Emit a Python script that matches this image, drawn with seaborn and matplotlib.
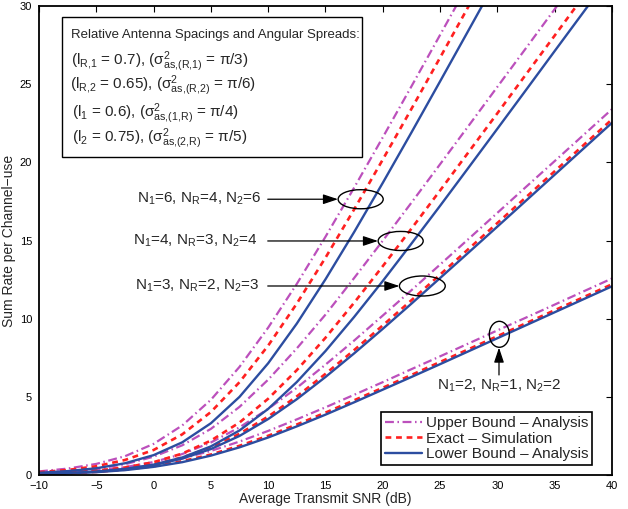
import matplotlib
matplotlib.use("Agg")
import matplotlib.pyplot as plt
import seaborn as sns
import pandas as pd
from matplotlib.patches import Ellipse, Rectangle

# ---------------- data ----------------
snr_db = [-10, -7.5, -5, -2.5, 0, 2.5, 5, 7.5, 10, 12.5, 15, 17.5, 20,
          22.5, 25, 27.5, 30, 32.5, 35, 37.5, 40]

# N1=2, NR=1, N2=2
g1_upper = [0.09, 0.15, 0.25, 0.42, 0.68, 1.06, 1.54, 2.14, 2.82, 3.56, 4.33,
            5.13, 5.94, 6.77, 7.59, 8.42, 9.25, 10.07, 10.90, 11.74, 12.57]
g1_exact = [0.07, 0.12, 0.20, 0.34, 0.56, 0.88, 1.31, 1.87, 2.51, 3.23, 3.99,
            4.78, 5.58, 6.40, 7.23, 8.05, 8.88, 9.71, 10.54, 11.37, 12.20]
g1_lower = [0.06, 0.11, 0.18, 0.31, 0.52, 0.82, 1.24, 1.77, 2.40, 3.11, 3.86,
            4.65, 5.46, 6.27, 7.09, 7.92, 8.75, 9.58, 10.41, 11.24, 12.07]

# N1=3, NR=2, N2=3
g2_upper = [0.10, 0.17, 0.29, 0.50, 0.83, 1.34, 2.08, 3.05, 4.23, 5.58, 7.06,
            8.60, 10.20, 11.82, 13.46, 15.11, 16.77, 18.43, 20.08, 21.74, 23.40]
g2_exact = [0.08, 0.13, 0.23, 0.40, 0.68, 1.12, 1.76, 2.64, 3.74, 5.03, 6.47,
            7.99, 9.57, 11.18, 12.82, 14.47, 16.12, 17.77, 19.43, 21.09, 22.75]
g2_lower = [0.07, 0.12, 0.22, 0.37, 0.63, 1.05, 1.66, 2.50, 3.58, 4.85, 6.27,
            7.78, 9.35, 10.96, 12.60, 14.24, 15.89, 17.55, 19.21, 20.87, 22.53]

# N1=4, NR=3, N2=4
g3_upper = [0.13, 0.23, 0.40, 0.69, 1.17, 1.90, 2.95, 4.36, 6.10, 8.10, 10.26,
            12.60, 14.99, 17.42, 19.88, 22.35, 24.83, 27.31, 29.80, 32.29]
g3_exact = [0.09, 0.16, 0.28, 0.48, 0.82, 1.37, 2.20, 3.36, 4.88, 6.71, 8.78,
            11.02, 13.36, 15.76, 18.20, 20.67, 23.14, 25.63, 28.11, 30.60, 33.09]
g3_lower = [0.07, 0.13, 0.22, 0.39, 0.66, 1.12, 1.83, 2.85, 4.23, 5.95, 7.93,
            10.11, 12.41, 14.80, 17.22, 19.68, 22.15, 24.63, 27.12, 29.60, 32.09]

# N1=6, NR=4, N2=6
g4_upper = [0.23, 0.41, 0.71, 1.20, 1.99, 3.17, 4.81, 6.92, 9.43, 12.23, 15.24,
            18.38, 21.60, 24.86, 28.15, 31.45]
g4_exact = [0.18, 0.32, 0.56, 0.96, 1.60, 2.60, 4.03, 5.94, 8.28, 10.97, 13.90,
            16.99, 20.18, 23.42, 26.70, 30.00, 33.31]
g4_lower = [0.14, 0.25, 0.43, 0.75, 1.27, 2.09, 3.31, 5.00, 7.15, 9.69, 12.52,
            15.54, 18.69, 21.91, 25.18, 28.47, 31.77]

kinds = ["Upper Bound \u2013 Analysis", "Exact \u2013 Simulation",
         "Lower Bound \u2013 Analysis"]
groups = ["N1=2,NR=1,N2=2", "N1=3,NR=2,N2=3", "N1=4,NR=3,N2=4", "N1=6,NR=4,N2=6"]
series = {
    (groups[0], kinds[0]): g1_upper, (groups[0], kinds[1]): g1_exact, (groups[0], kinds[2]): g1_lower,
    (groups[1], kinds[0]): g2_upper, (groups[1], kinds[1]): g2_exact, (groups[1], kinds[2]): g2_lower,
    (groups[2], kinds[0]): g3_upper, (groups[2], kinds[1]): g3_exact, (groups[2], kinds[2]): g3_lower,
    (groups[3], kinds[0]): g4_upper, (groups[3], kinds[1]): g4_exact, (groups[3], kinds[2]): g4_lower,
}
rows = []
for (g, k), vals in series.items():
    for x, y in zip(snr_db, vals):
        rows.append({"snr": x, "rate": y, "group": g, "kind": k})
df = pd.DataFrame(rows)

# ---------------- style ----------------
sns.set_style("white")
plt.rcParams["font.family"] = ["Liberation Sans", "DejaVu Sans"]
plt.rcParams["mathtext.default"] = "regular"
plt.rcParams["axes.unicode_minus"] = True

styles = {
    kinds[0]: dict(color="#BC50BC", lw=1.6, dashes=(4.0, 1.6, 0.7, 1.6)),
    kinds[1]: dict(color="#FF2020", lw=1.9, dashes=(2.2, 1.8)),
    kinds[2]: dict(color="#2C4DA0", lw=1.7, dashes=None),
}

fig = plt.figure(figsize=(6.28, 5.09), dpi=100)
ax = fig.add_axes([0.0621, 0.0668, 0.9124, 0.9214])

handles = {}
for g in groups:
    for k in kinds:
        sub = df[(df.group == g) & (df.kind == k)]
        st = styles[k]
        sns.lineplot(data=sub, x="snr", y="rate", ax=ax, color=st["color"],
                     lw=st["lw"], estimator=None, sort=False, legend=False)
        line = ax.lines[-1]
        if st["dashes"] is not None:
            line.set_dashes(st["dashes"])
        handles.setdefault(k, line)

ax.set_xlim(-10, 40)
ax.set_ylim(0, 30)
ax.set_xticks(range(-10, 41, 5))
ax.set_yticks(range(0, 31, 5))
ax.tick_params(direction="in", length=4, width=0.8, top=True, right=True,
               labelsize=8, colors="black")
ax.tick_params(axis="x", pad=4)
ax.tick_params(axis="y", pad=5)
for sp in ax.spines.values():
    sp.set_color("black")
    sp.set_linewidth(1.3)
ax.set_xlabel("Average Transmit SNR (dB)", fontsize=10, labelpad=1)
ax.set_ylabel("Sum Rate per Channel\u2212use", fontsize=10, labelpad=2.5)

# legend
leg = ax.legend([handles[k] for k in kinds], kinds, loc="lower right",
                bbox_to_anchor=(0.965, 0.021), fontsize=11, frameon=True,
                fancybox=False, framealpha=1, edgecolor="black",
                handlelength=2.4, handletextpad=0.25, labelspacing=0.1,
                borderpad=0.25, borderaxespad=0)
leg.get_frame().set_linewidth(1.2)

# info box
ax.add_patch(Rectangle((0.040, 0.678), 0.524, 0.2985, transform=ax.transAxes,
                       fill=True, facecolor="white", edgecolor="black", lw=1.0, zorder=5))
ax.text(0.0567, 0.9324, "Relative Antenna Spacings and Angular Spreads:",
        transform=ax.transAxes, fontsize=9.5, va="baseline", ha="left", zorder=6)
box_lines = [
    (0.0558, 0.8742, r"(l$_{R{,}1}$ = 0.7), ($\sigma^2_{as{,}(R{,}1)}$ = $\pi$/3)"),
    (0.0540, 0.8220, r"(l$_{R{,}2}$ = 0.65), ($\sigma^2_{as{,}(R{,}2)}$ = $\pi$/6)"),
    (0.0576, 0.7640, r"(l$_{1}$ = 0.6), ($\sigma^2_{as{,}(1{,}R)}$ = $\pi$/4)"),
    (0.0576, 0.7107, r"(l$_{2}$ = 0.75), ($\sigma^2_{as{,}(2{,}R)}$ = $\pi$/5)"),
]
for x, y, s in box_lines:
    ax.text(x, y, s, transform=ax.transAxes, fontsize=11, va="baseline",
            ha="left", zorder=6)

# annotations
ells = [(18.07, 17.64, 3.93, 1.22), (21.56, 14.97, 3.93, 1.22),
        (23.45, 12.09, 4.0, 1.28), (30.17, 9.0, 1.75, 1.66)]
for cx, cy, w, h in ells:
    ax.add_patch(Ellipse((cx, cy), w, h, fill=False, edgecolor="black", lw=1.0, zorder=4))

arrow_kw = dict(arrowstyle="-|>,head_length=0.9,head_width=0.3", color="black",
                lw=0.9, shrinkA=0, shrinkB=0)
ax.annotate("", xy=(16.09, 17.64), xytext=(9.96, 17.64), arrowprops=arrow_kw)
ax.annotate("", xy=(19.58, 14.97), xytext=(9.96, 14.97), arrowprops=arrow_kw)
ax.annotate("", xy=(21.45, 12.09), xytext=(9.96, 12.09), arrowprops=arrow_kw)
ax.annotate("", xy=(30.14, 8.15), xytext=(30.14, 6.40), arrowprops=arrow_kw)

ax.text(9.46, 17.64, r"N$_1$=6, N$_R$=4, N$_2$=6", fontsize=11, ha="right", va="center")
ax.text(9.11, 14.97, r"N$_1$=4, N$_R$=3, N$_2$=4", fontsize=11, ha="right", va="center")
ax.text(9.28, 12.09, r"N$_1$=3, N$_R$=2, N$_2$=3", fontsize=11, ha="right", va="center")
ax.text(30.2, 5.69, r"N$_1$=2, N$_R$=1, N$_2$=2", fontsize=11, ha="center", va="center")

fig.savefig("out.png", dpi=100)
